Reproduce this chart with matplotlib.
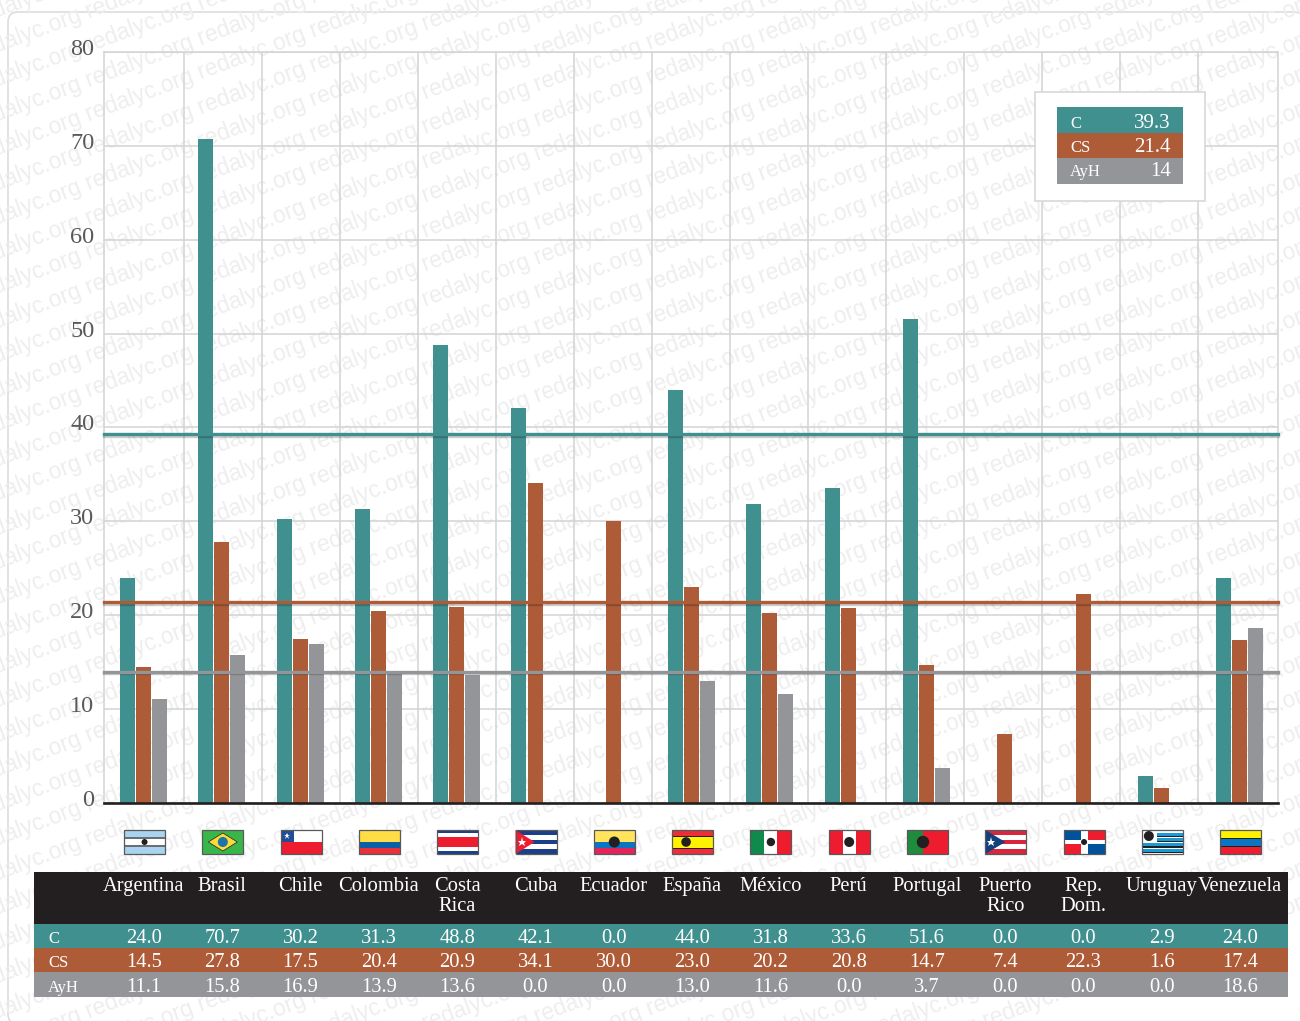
import numpy as np
import matplotlib
matplotlib.use("Agg")
import matplotlib.pyplot as plt
import matplotlib.patheffects as pe
from matplotlib.patches import Rectangle, FancyBboxPatch, Circle, Polygon
from matplotlib.transforms import ScaledTranslation

countries = ["Argentina", "Brasil", "Chile", "Colombia", "Costa\nRica", "Cuba", "Ecuador", "España",
             "México", "Perú", "Portugal", "Puerto\nRico", "Rep.\nDom.", "Uruguay", "Venezuela"]
c_vals = [24.0, 70.7, 30.2, 31.3, 48.8, 42.1, 0.0, 44.0, 31.8, 33.6, 51.6, 0.0, 0.0, 2.9, 24.0]
cs_vals = [14.5, 27.8, 17.5, 20.4, 20.9, 34.1, 30.0, 23.0, 20.2, 20.8, 14.7, 7.4, 22.3, 1.6, 17.4]
ayh_vals = [11.1, 15.8, 16.9, 13.9, 13.6, 0.0, 0.0, 13.0, 11.6, 0.0, 3.7, 0.0, 0.0, 0.0, 18.6]
series_names = ["C", "CS", "AyH"]
mean_vals = [39.3, 21.4, 14]
mean_labels = ["39.3", "21.4", "14"]
y_ticks = [0, 10, 20, 30, 40, 50, 60, 70, 80]

TEAL = "#419090"
RUST = "#ae5c38"
GREY = "#939598"
INK = "#231f20"
colors = [TEAL, RUST, GREY]
W, H = 1300, 1021

plt.rcParams["font.family"] = ["Liberation Serif", "DejaVu Serif"]
fig = plt.figure(figsize=(W / 100, H / 100), dpi=100, facecolor="white")

# pixel layer behind the chart: frame and watermark
bg = fig.add_axes([0, 0, 1, 1], zorder=0)
bg.set_xlim(0, W)
bg.set_ylim(H, 0)
bg.axis("off")
frame = FancyBboxPatch((8, 12), 1296, 1012, boxstyle="round,pad=0,rounding_size=10",
                       fc="white", ec="#dcdddd", lw=1.2)
bg.add_patch(frame)
mark = " ".join(["redalyc.org"] * 22)
for k in range(-14, 44):
    t = bg.text(-250, k * 34.5, mark, rotation=20.5, rotation_mode="anchor", ha="left", va="center",
                fontsize=16.5, color="#eeeeee", family="Liberation Sans", clip_on=True)
    t.set_clip_path(frame)

# chart
ax = fig.add_axes([104 / W, 1 - 803 / H, (1278 - 104) / W, (803 - 52) / H], zorder=1)
ax.patch.set_alpha(0)
x = np.arange(len(countries))
for j, vals in enumerate([c_vals, cs_vals, ayh_vals]):
    ax.bar(x + (j - 1) * 0.2044, vals, width=0.1916, color=colors[j], zorder=3)
for val, col in zip(mean_vals, colors):
    ax.axhline(val, color=col, lw=2.4, zorder=5, clip_on=False,
               path_effects=[pe.SimpleLineShadow(offset=(0, -1.1), shadow_color="k", alpha=0.2), pe.Normal()])
ax.set_xlim(-0.505, 14.49)
ax.set_ylim(0, 80)
ax.set_xticks(np.linspace(0.517, 13.47, 14))
ax.set_xticklabels([])
ax.set_yticks(y_ticks)
ax.tick_params(length=0, labelsize=17.5, labelcolor="#58595b", pad=7)
ax.grid(color="#d1d3d4", lw=1.1, zorder=1)
ax.set_axisbelow(True)
for side in ["top", "right", "left"]:
    ax.spines[side].set_color("#d1d3d4")
    ax.spines[side].set_linewidth(1.1)
ax.spines["bottom"].set_color(INK)
ax.spines["bottom"].set_linewidth(1.9)
ax.spines["bottom"].set_zorder(6)
up = ScaledTranslation(0, 5 / 100, fig.dpi_scale_trans)
for lab in ax.get_yticklabels():
    lab.set_transform(lab.get_transform() + up)

# pixel layer on top: legend, flags, table
top = fig.add_axes([0, 0, 1, 1], zorder=2)
top.set_xlim(0, W)
top.set_ylim(H, 0)
top.axis("off")
top.patch.set_alpha(0)

# legend box
top.add_patch(Rectangle((1035, 92), 170, 109, fc="white", ec="#d8d8d8", lw=1.2))
leg_rows = [(107, 26, 128), (133, 25, 152), (158, 26, 176)]
for (y0, h, base), name, lab, col in zip(leg_rows, series_names, mean_labels, colors):
    top.add_patch(Rectangle((1057, y0), 126, h, fc=col, ec="none"))
    top.text(1070, base, name, color="white", fontsize=12, va="baseline", ha="left")
    top.text(1171, base, lab, color="white", fontsize=15, va="baseline", ha="right")


# flags, each drawn inside a 41x24 box from its left/top corner
def bands(l, t, fracs, cols, w=41, h=24):
    pos = 0
    for f, col in zip(fracs, cols):
        top.add_patch(Rectangle((l, t + pos * h), w, f * h, fc=col, ec="none"))
        pos += f


def hbars(l, t, xs, col, w=41, h=24, lw=0.09):
    for f in xs:
        top.add_patch(Rectangle((l, t + f * h), w, lw * h, fc=col, ec="none"))


def dot(cx, cy, r=3.6, col="#231f20"):
    top.add_patch(Circle((cx, cy), r, fc=col, ec="none"))


def draw_flag(i, l, t):
    w, h = 41, 24
    m = l + w / 2
    n = t + h / 2
    if i == 0:
        bands(l, t, [1 / 3, 1 / 3, 1 / 3], ["#a9d4ef", "white", "#a9d4ef"])
        hbars(l, t, [0.31, 0.64], "#6d6e71", lw=0.05)
        dot(m, n, 3)
    elif i == 1:
        bands(l, t, [1], ["#39b54a"])
        top.add_patch(Polygon([(l + 6, n), (m, t + 3), (l + w - 6, n), (m, t + h - 3)], fc="#ffd83a", ec="#231f20", lw=0.5))
        dot(m, n, 5, "#1a75a8")
    elif i == 2:
        bands(l, t, [0.5, 0.5], ["white", "#ed1c2e"])
        top.add_patch(Rectangle((l, t), 13, h / 2, fc="#1f4e96", ec="none"))
        top.plot([l + 6.5], [t + 6], marker="*", ms=5, color="white", mew=0)
    elif i == 3:
        bands(l, t, [0.5, 0.25, 0.25], ["#ffde45", "#0a5fa8", "#e8303a"])
    elif i == 4:
        bands(l, t, [0.14, 0.15, 0.42, 0.15, 0.14], ["#1b3f8b", "white", "#ed1c2e", "white", "#1b3f8b"])
    elif i == 5:
        bands(l, t, [0.2, 0.2, 0.2, 0.2, 0.2], ["#1b3f8b", "white", "#1b3f8b", "white", "#1b3f8b"])
        top.add_patch(Polygon([(l, t), (l + 19, n), (l, t + h)], fc="#ed1c2e", ec="none"))
        top.plot([l + 6], [n], marker="*", ms=6.5, color="white", mew=0)
    elif i == 6:
        bands(l, t, [0.5, 0.25, 0.25], ["#ffe45c", "#0a75c2", "#e3235a"])
        dot(m, n, 5.5)
    elif i == 7:
        bands(l, t, [0.25, 0.5, 0.25], ["#ed2e38", "#fff200", "#ed2e38"])
        hbars(l, t, [0.24, 0.73], "#231f20", lw=0.05)
        dot(l + 14, n, 4.8)
    elif i == 8:
        top.add_patch(Rectangle((l, t), 14, h, fc="#0f8a4b", ec="none"))
        top.add_patch(Rectangle((l + 14, t), 13, h, fc="white", ec="none"))
        top.add_patch(Rectangle((l + 27, t), 14, h, fc="#ed1c2e", ec="none"))
        dot(m, n, 4.2)
    elif i == 9:
        top.add_patch(Rectangle((l, t), 14, h, fc="#ed1c2e", ec="none"))
        top.add_patch(Rectangle((l + 14, t), 13, h, fc="white", ec="none"))
        top.add_patch(Rectangle((l + 27, t), 14, h, fc="#ed1c2e", ec="none"))
        dot(m, n, 5)
    elif i == 10:
        top.add_patch(Rectangle((l, t), 16, h, fc="#1e8c3c", ec="none"))
        top.add_patch(Rectangle((l + 16, t), 25, h, fc="#ed1c2e", ec="none"))
        dot(l + 16, n, 6.2)
    elif i == 11:
        bands(l, t, [0.2] * 5, ["#d7263d", "white", "#d7263d", "white", "#d7263d"])
        top.add_patch(Polygon([(l, t), (l + 20, n), (l, t + h)], fc="#12407c", ec="none"))
        top.plot([l + 6], [n], marker="*", ms=6.5, color="white", mew=0)
    elif i == 12:
        top.add_patch(Rectangle((l, t), w, h, fc="white", ec="none"))
        for dx, dy, col in [(0, 0, "#00529b"), (24, 0, "#ed1c2e"), (0, 14, "#ed1c2e"), (24, 14, "#00529b")]:
            top.add_patch(Rectangle((l + dx, t + dy), 17, 10, fc=col, ec="none"))
        dot(m, n, 3)
    elif i == 13:
        bands(l, t, [1], ["white"])
        hbars(l, t, [0.12, 0.34, 0.56, 0.78], "#1c9ad6", lw=0.12)
        hbars(l, t, [0.24, 0.46, 0.68, 0.90], "#231f20", lw=0.05)
        top.add_patch(Rectangle((l, t), 15, 12, fc="white", ec="none"))
        dot(l + 7, t + 6, 5)
    elif i == 14:
        bands(l, t, [0.33, 0.34, 0.33], ["#fff200", "#0a75c2", "#ed1c2e"])
        hbars(l, t, [0.32, 0.65], "#231f20", lw=0.04)
    top.add_patch(Rectangle((l, t), w, h, fc="none", ec="#58595b", lw=0.9))


# table
top.add_patch(Rectangle((34, 872), 1254, 52, fc=INK, ec="none"))
rows = [(924, 23.5, 943), (947.5, 24.5, 967), (972, 25, 992)]
centers = [ax.transData.transform((i, 0))[0] for i in x]
for i, (cx, name) in enumerate(zip(centers, countries)):
    draw_flag(i, cx - 19.5, 830)
    for n_line, part in enumerate(name.split("\n")):
        top.text(cx + 0.5, 891 + 20 * n_line, part, color="white", fontsize=14.8, ha="center", va="baseline")
for (y0, h, base), name, vals, col in zip(rows, series_names, [c_vals, cs_vals, ayh_vals], colors):
    top.add_patch(Rectangle((34, y0), 1254, h, fc=col, ec="none"))
    top.text(48, base, name, color="white", fontsize=12, va="baseline", ha="left")
    for cx, v in zip(centers, vals):
        top.text(cx + 0.5, base, f"{v:.1f}", color="white", fontsize=14.8, ha="center", va="baseline")

fig.savefig("out.png", dpi=100)
